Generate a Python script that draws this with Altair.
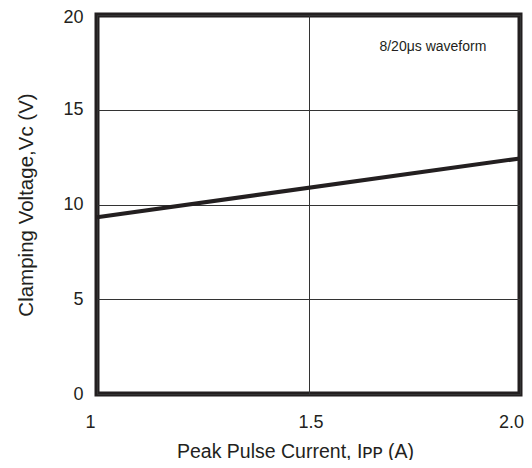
import altair as alt
import pandas as pd

current = [1.0, 2.0]
voltage = [9.33, 12.43]
x_ticks = [1.0, 1.5, 2.0]
y_ticks = [0, 5, 10, 15, 20]
note_text = ["8/20μs waveform"]
note_x = [1.794]
note_y = [18.3]

df = pd.DataFrame({"x": current, "y": voltage})
note = pd.DataFrame({"x": note_x, "y": note_y, "t": note_text})

FONT = "Liberation Sans"
INK = "#231f20"

xscale = alt.Scale(domain=[1, 2], nice=False, zero=False)
yscale = alt.Scale(domain=[0, 20], nice=False)

x_offset = {"condition": [{"test": "datum.value == 1", "value": -7},
                          {"test": "datum.value == 2", "value": -9}],
            "value": 2}
y_offset = {"condition": [{"test": "datum.value == 20", "value": 2}], "value": 0}

line = alt.Chart(df).mark_line(color=INK, strokeWidth=4).encode(
    x=alt.X("x:Q", scale=xscale,
            axis=alt.Axis(values=x_ticks, title="Peak Pulse Current, Iᴘᴘ (A)",
                          labelExpr="datum.value == 1 ? '1' : format(datum.value, '.1f')",
                          grid=True, gridColor="#333", gridWidth=1, ticks=False, domain=False,
                          labelPadding=19, labelFontSize=18, titleFontSize=19.5,
                          titlePadding=11, labelFlush=False, labelColor=INK, titleColor=INK,
                          labelOffset=x_offset, titleX=198,
                          titleFontWeight="normal", labelFont=FONT, titleFont=FONT)),
    y=alt.Y("y:Q", scale=yscale,
            axis=alt.Axis(values=y_ticks, title="Clamping Voltage,Vc (V)",
                          grid=True, gridColor="#333", gridWidth=1, ticks=False, domain=False,
                          labelPadding=14, labelFontSize=18, titleFontSize=20.5,
                          titlePadding=26, labelFlush=False, labelColor=INK, titleColor=INK,
                          labelOffset=y_offset,
                          titleFontWeight="normal", labelFont=FONT, titleFont=FONT)),
)

text = alt.Chart(note).mark_text(font=FONT, fontSize=14, color=INK).encode(
    x=alt.X("x:Q", scale=xscale), y=alt.Y("y:Q", scale=yscale), text="t:N"
)

chart = (line + text).properties(
    width=423, height=379,
    autosize=alt.AutoSizeParams(type="none"),
    padding={"left": 89, "top": 7, "right": 4, "bottom": 66},
).configure(background="white").configure_view(stroke=INK, strokeWidth=5)

chart.save("out.html", embed_options={"renderer": "svg", "actions": False})
